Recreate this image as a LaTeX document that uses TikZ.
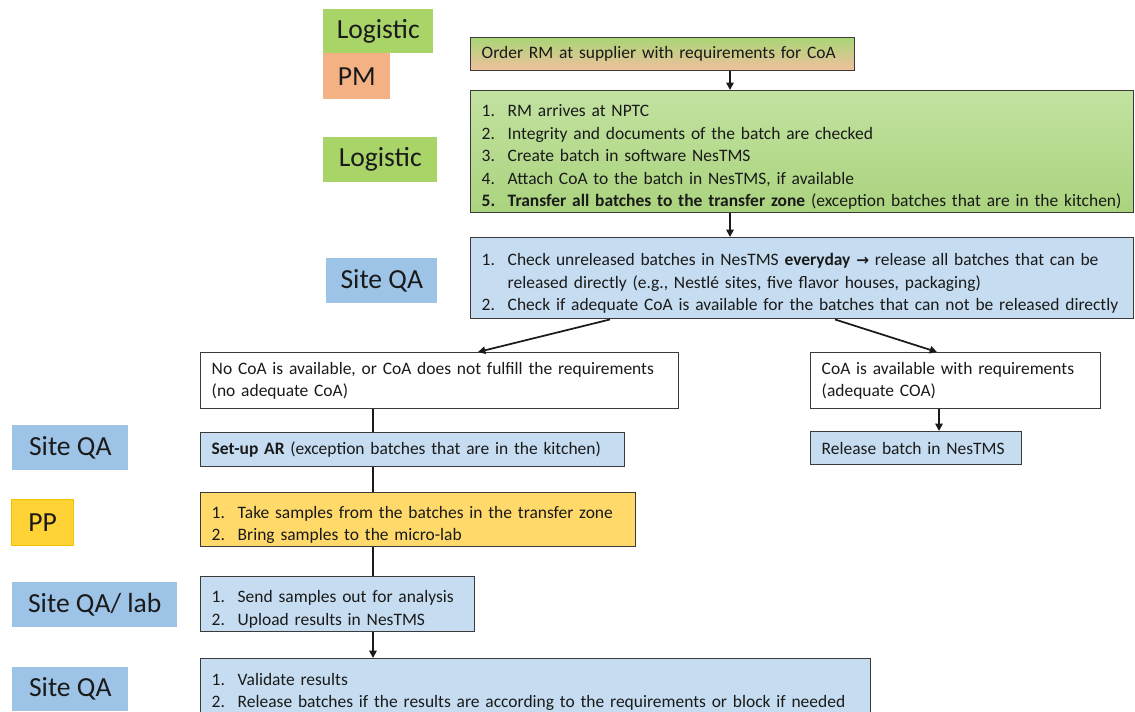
\documentclass[tikz,border=0pt]{standalone}
\usepackage{fontspec}
\setmainfont{Carlito}
\newfontfamily\symfont{DejaVu Sans}
\usetikzlibrary{arrows.meta}

\definecolor{ink}{HTML}{1A1A1A}
\definecolor{edge}{HTML}{3A3A3A}
\definecolor{rolegreen}{HTML}{A9D468}
\definecolor{roleorange}{HTML}{F4B183}
\definecolor{roleblue}{HTML}{9DC3E6}
\definecolor{rolegold}{HTML}{FFD335}
\definecolor{rolegoldedge}{HTML}{F2C200}
\definecolor{boxblue}{HTML}{C6DDF1}
\definecolor{boxgold}{HTML}{FFDA6B}
\definecolor{greentop}{HTML}{C2E2A0}
\definecolor{greenbot}{HTML}{AAD37E}
\definecolor{ordertop}{HTML}{A9D676}
\definecolor{orderbot}{HTML}{F2BF9E}

\newcommand\bxfont{\fontsize{13.1}{16.9}\selectfont}
\newcommand\rlfont{\fontsize{20.7}{24}\selectfont}
% numbered step with hanging indent
\newcommand\stp[2]{\par\hangindent=19.5pt\hangafter=1\noindent\makebox[19.5pt][l]{#1}#2}

\begin{document}
\begin{tikzpicture}[x=0.75pt,y=-0.75pt,
  box/.style={draw=edge, line width=1.1pt, anchor=north west, inner xsep=8.25pt,
    inner ysep=0pt, align=left, font=\bxfont, text=ink},
  role/.style={anchor=north west, inner sep=0pt, font=\rlfont, text=ink, align=center},
  arr/.style={draw=ink, line width=1.3pt, -{Triangle[length=5.5pt,width=5.5pt]}},
  link/.style={draw=ink, line width=1.3pt}]
\useasboundingbox (0,0) rectangle (1135,711);

% role labels
\node[role, fill=rolegreen, minimum width=82.5pt, minimum height=33pt] (rLog1) at (323,9) {Logistic};
\node[role, fill=roleorange, minimum width=50.25pt, minimum height=34.5pt] (rPM) at (323,53) {PM};
\node[role, fill=rolegreen, minimum width=85.5pt, minimum height=33.75pt] (rLog2) at (323,137) {Logistic};
\node[role, fill=roleblue, minimum width=83.25pt, minimum height=33.75pt] (rQA1) at (326,258) {Site QA};
\node[role, fill=roleblue, minimum width=87pt, minimum height=33.75pt] (rQA2) at (12,425) {Site QA};
\node[role, fill=rolegold, draw=rolegoldedge, line width=0.8pt, minimum width=46.5pt, minimum height=34.5pt] (rPP) at (11,499) {PP};
\node[role, fill=roleblue, minimum width=123.75pt, minimum height=33.75pt] (rLab) at (12,582) {Site QA/ lab};
\node[role, fill=roleblue, minimum width=87pt, minimum height=33pt] (rQA3) at (12,667) {Site QA};

% process boxes
\node[box, top color=ordertop, bottom color=orderbot, minimum width=288pt, minimum height=24.75pt, text width=271.5pt] (order) at (470,37)
  {Order RM at supplier with requirements for CoA};

\node[box, top color=greentop, bottom color=greenbot, minimum width=497.25pt, minimum height=91.5pt, text width=480.75pt] (arrive) at (470,90)
  {\stp{1.}{RM arrives at NPTC}
   \stp{2.}{Integrity and documents of the batch are checked}
   \stp{3.}{Create batch in software NesTMS}
   \stp{4.}{Attach CoA to the batch in NesTMS, if available}
   \stp{\textbf{5.}}{\textbf{Transfer all batches to the transfer zone} (exception batches that are in the kitchen)}};

\node[box, fill=boxblue, minimum width=497.25pt, minimum height=60.75pt, text width=480.75pt] (check) at (470,237)
  {\stp{1.}{Check unreleased batches in NesTMS \textbf{everyday} {\symfont\bfseries\fontsize{11.5}{12}\selectfont →} release all batches that can be released directly (e.g., Nestlé sites, five flavor houses, packaging)}
   \stp{2.}{Check if adequate CoA is available for the batches that can not be released directly}};

\node[box, fill=white, minimum width=358.5pt, minimum height=42pt, text width=342pt] (noCoA) at (200,352)
  {No CoA is available, or CoA does not fulfill the requirements\\(no adequate CoA)};

\node[box, fill=white, minimum width=217.5pt, minimum height=42pt, text width=201pt] (yesCoA) at (810,352)
  {CoA is available with requirements\\(adequate COA)};

\node[box, fill=boxblue, minimum width=318pt, minimum height=25.5pt, text width=301.5pt] (setup) at (200,432)
  {\textbf{Set-up AR} (exception batches that are in the kitchen)};

\node[box, fill=boxblue, minimum width=158.25pt, minimum height=24.75pt, text width=141.75pt] (release) at (810,431)
  {Release batch in NesTMS};

\node[box, fill=boxgold, minimum width=326.25pt, minimum height=40.5pt, text width=309.75pt] (samples) at (200,492)
  {\stp{1.}{Take samples from the batches in the transfer zone}
   \stp{2.}{Bring samples to the micro-lab}};

\node[box, fill=boxblue, minimum width=205.5pt, minimum height=41.25pt, text width=189pt] (send) at (200,576)
  {\stp{1.}{Send samples out for analysis}
   \stp{2.}{Upload results in NesTMS}};

\node[box, fill=boxblue, minimum width=502.5pt, minimum height=42pt, text width=486pt] (validate) at (200,658)
  {\stp{1.}{Validate results}
   \stp{2.}{Release batches if the results are according to the requirements or block if needed}};

% connector positions
\coordinate (xMain) at (730,0);
\coordinate (xLeftOut) at (610,0);
\coordinate (xLeftIn) at (478,0);
\coordinate (xRightOut) at (835,0);
\coordinate (xRightIn) at (937,0);
\coordinate (xRight) at (939,0);
\coordinate (xLeft) at (373,0);

% connectors
\draw[arr] (order.south -| xMain) -- (arrive.north -| xMain);
\draw[arr] (arrive.south -| xMain) -- (check.north -| xMain);
\draw[arr] (check.south -| xLeftOut) -- (noCoA.north -| xLeftIn);
\draw[arr] (check.south -| xRightOut) -- (yesCoA.north -| xRightIn);
\draw[arr] (yesCoA.south -| xRight) -- (release.north -| xRight);
\draw[link] (noCoA.south -| xLeft) -- (setup.north -| xLeft);
\draw[link] (setup.south -| xLeft) -- (samples.north -| xLeft);
\draw[link] (samples.south -| xLeft) -- (send.north -| xLeft);
\draw[arr] (send.south -| xLeft) -- (validate.north -| xLeft);
\end{tikzpicture}
\end{document}
